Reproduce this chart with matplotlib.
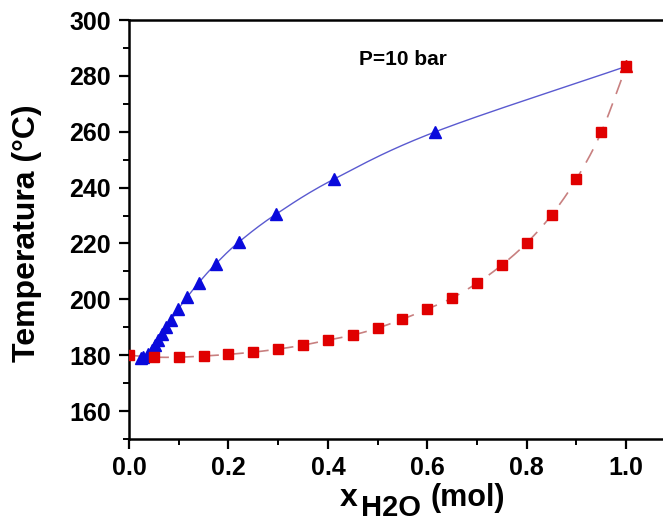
import numpy as np
import matplotlib
matplotlib.use("Agg")
import matplotlib.pyplot as plt
from matplotlib.ticker import MultipleLocator

plt.rcParams['font.family'] = ['Liberation Sans', 'DejaVu Sans']
plt.rcParams['font.weight'] = 'bold'

# Dew curve (vapour) - blue triangles
x_vap = [0.025, 0.029, 0.039, 0.046, 0.052, 0.059, 0.066, 0.074, 0.085, 0.099,
         0.117, 0.140, 0.174, 0.221, 0.295, 0.413, 0.615, 1.0]
t_vap = [179.0, 179.3, 180.4, 181.8, 183.6, 185.4, 187.6, 190.0, 192.6, 196.5,
         200.8, 205.9, 212.6, 220.5, 230.4, 243.1, 259.9, 283.4]

# Bubble curve (liquid) - red squares
x_liq = [0.0, 0.05, 0.10, 0.15, 0.20, 0.25, 0.30, 0.35, 0.40, 0.45, 0.50,
         0.55, 0.60, 0.65, 0.70, 0.75, 0.80, 0.85, 0.90, 0.95, 1.0]
t_liq = [180.0, 179.3, 179.3, 179.7, 180.3, 181.1, 182.2, 183.6, 185.4, 187.2, 189.7,
         192.9, 196.5, 200.5, 205.8, 212.3, 220.2, 230.2, 243.1, 259.9, 283.4]

x_ticks = [0.0, 0.2, 0.4, 0.6, 0.8, 1.0]
y_ticks = [160, 180, 200, 220, 240, 260, 280, 300]


def smooth(xs, ys, n=20):
    """Catmull-Rom curve through the given points (for drawing the connecting line)."""
    p = np.column_stack([xs, ys]).astype(float)
    p = np.vstack([2 * p[0] - p[1], p, 2 * p[-1] - p[-2]])
    out = []
    for i in range(1, len(p) - 2):
        p0, p1, p2, p3 = p[i - 1], p[i], p[i + 1], p[i + 2]
        t = np.linspace(0, 1, n, endpoint=False)[:, None]
        seg = 0.5 * ((2 * p1) + (-p0 + p2) * t + (2 * p0 - 5 * p1 + 4 * p2 - p3) * t ** 2
                     + (-p0 + 3 * p1 - 3 * p2 + p3) * t ** 3)
        out.append(seg)
    out.append(p[-2][None, :])
    out = np.vstack(out)
    return out[:, 0], out[:, 1]


W, H = 663, 525
fig = plt.figure(figsize=(W / 100, H / 100), dpi=100)
ax = fig.add_axes([129 / W, 1 - 439 / H, 1 - 129 / W, (439 - 20) / H])

sx, sy = smooth(x_vap, t_vap)
ax.plot(sx, sy, '-', color='#5a5ad0', lw=1.0, zorder=2)
ax.plot(x_vap[:-1], t_vap[:-1], '^', color='#0a0adc', ms=8.5, mec='#0a0adc', ls='none', zorder=3)

lx, ly = smooth(x_liq, t_liq)
ax.plot(lx, ly, '--', color='#c88080', lw=1.2, dashes=(9, 6), zorder=2)
ax.plot(x_liq, t_liq, 's', color='#e00000', ms=6.5, mec='#e00000', ls='none', zorder=4)
# end point of the vapour curve drawn in red on top (as in the original)
ax.plot(x_vap[-1:], t_vap[-1:], '^', color='#e00000', ms=8.5, mec='#e00000', ls='none', zorder=5)

ax.set_xlim(0, 1.074)
ax.set_ylim(150, 300)
ax.set_xticks(x_ticks)
ax.set_yticks(y_ticks)
ax.set_xticklabels([f"{v:.1f}" for v in x_ticks])
ax.set_yticklabels([str(v) for v in y_ticks])
ax.xaxis.set_minor_locator(MultipleLocator(0.1))
ax.yaxis.set_minor_locator(MultipleLocator(10))
ax.tick_params(which='major', direction='out', length=7, width=1.6, labelsize=18)
ax.tick_params(axis='y', which='major', pad=6)
ax.tick_params(axis='x', which='major', pad=5)
ax.tick_params(which='minor', direction='out', length=4, width=1.4)
ax.tick_params(top=False, right=False)
for lab in ax.get_xticklabels() + ax.get_yticklabels():
    lab.set_fontweight('bold')

for s in ['left', 'bottom', 'top']:
    ax.spines[s].set_linewidth(1.8)
ax.spines['right'].set_visible(False)

# y label
fig.text(27 / W, 1 - 233 / H, 'Temperatura (°C)', rotation=90, fontsize=23,
         fontweight='bold', ha='center', va='center')

# x label: "x" + "H2O" (lowered, same size) + "(mol)"
fig.text(340 / W, 1 - 506 / H, 'x', fontsize=23, fontweight='bold',
         ha='left', va='baseline')
fig.text(361 / W, 1 - 516 / H, 'H2O', fontsize=21, fontweight='bold',
         ha='left', va='baseline')
fig.text(431 / W, 1 - 506 / H, '(mol)', fontsize=22, fontweight='bold',
         ha='left', va='baseline')

ax.text(0.551, 285.7, 'P=10 bar', fontsize=15, fontweight='bold', ha='center', va='center')

fig.savefig('out.png', dpi=100)
